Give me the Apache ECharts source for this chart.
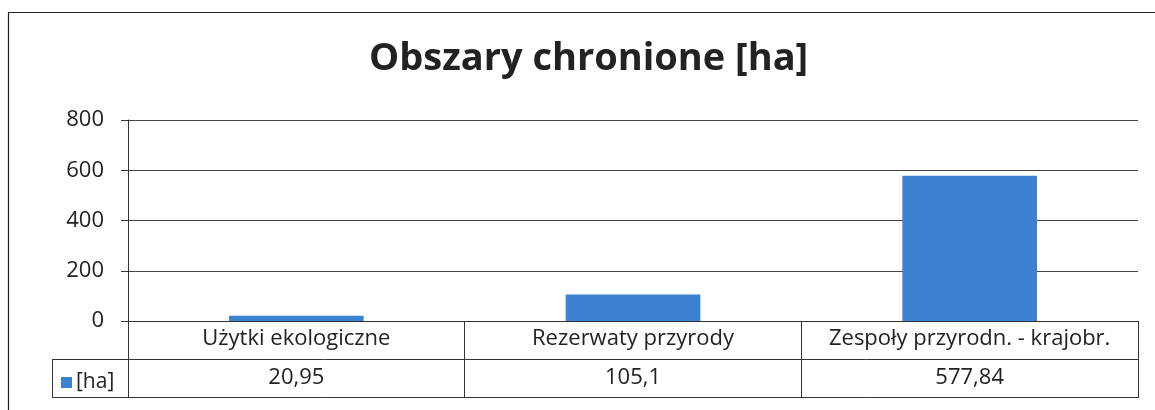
<!DOCTYPE html>
<html>
<head>
<meta charset="utf-8">
<script src="https://cdn.jsdelivr.net/npm/echarts@6/dist/echarts.min.js"></script>
<style>html,body{margin:0;padding:0;background:#fff;}#c{width:1155px;height:410px;}</style>
</head>
<body>
<div id="c"></div>
<script>
const titleText = 'Obszary chronione [ha]';
const seriesName = '[ha]';
const categories = ['Użytki ekologiczne', 'Rezerwaty przyrody', 'Zespoły przyrodn. - krajobr.'];
const values = [20.95, 105.1, 577.84];
const yTicks = [0, 200, 400, 600, 800];

const valueLabels = values.map(v => String(v).replace('.', ','));
const FONT = 'Open Sans';
const LINE = '#333';

const chart = echarts.init(document.getElementById('c'));
chart.setOption({
  animation: false,
  backgroundColor: '#fff',
  textStyle: { fontFamily: FONT },
  title: {
    text: titleText,
    left: 364,
    top: 35,
    textStyle: { fontFamily: FONT, fontSize: 38, fontWeight: 'bold', color: '#222' }
  },
  legend: {
    data: [seriesName],
    left: 56,
    top: 367,
    icon: 'rect',
    itemWidth: 11,
    itemHeight: 11,
    itemGap: 4,
    textStyle: { fontFamily: FONT, fontSize: 21, color: '#222', padding: [0, 0, 0, -1] }
  },
  grid: { left: 128, right: 17, top: 120, bottom: 89, containLabel: false },
  xAxis: [
    {
      type: 'category',
      data: categories,
      position: 'bottom',
      axisLine: { show: true, lineStyle: { color: LINE, width: 1 } },
      axisTick: { show: true, length: 77, lineStyle: { color: LINE, width: 1 } },
      axisLabel: { margin: 7, fontFamily: FONT, fontSize: 22, color: '#222', interval: 0 }
    },
    {
      type: 'category',
      data: valueLabels,
      position: 'bottom',
      offset: 39,
      axisLine: { show: false },
      axisTick: { show: false },
      axisLabel: { margin: 7, fontFamily: FONT, fontSize: 22, color: '#222', interval: 0 }
    }
  ],
  yAxis: {
    type: 'value',
    min: yTicks[0],
    max: yTicks[yTicks.length - 1],
    interval: 200,
    axisLine: { show: true, lineStyle: { color: LINE, width: 1 } },
    axisTick: { show: true, length: 7, lineStyle: { color: LINE } },
    axisLabel: { margin: 24, fontFamily: FONT, fontSize: 22, color: '#222' },
    splitLine: { show: true, lineStyle: { color: '#444', width: 1 } }
  },
  series: [{
    name: seriesName,
    type: 'bar',
    data: values,
    barWidth: '40%',
    itemStyle: { color: '#3d82d2' }
  }],
  graphic: [
    { type: 'rect', silent: true, shape: { x: 8.5, y: 12.5, width: 1170, height: 420 }, style: { fill: 'none', stroke: '#222', lineWidth: 1.2 } },
    { type: 'line', silent: true, shape: { x1: 52, y1: 359.5, x2: 1138, y2: 359.5 }, style: { stroke: LINE, lineWidth: 1 } },
    { type: 'line', silent: true, shape: { x1: 52, y1: 397.5, x2: 1138, y2: 397.5 }, style: { stroke: LINE, lineWidth: 1 } },
    { type: 'line', silent: true, shape: { x1: 52.5, y1: 359.5, x2: 52.5, y2: 397.5 }, style: { stroke: LINE, lineWidth: 1 } }
  ]
});
</script>
</body>
</html>
